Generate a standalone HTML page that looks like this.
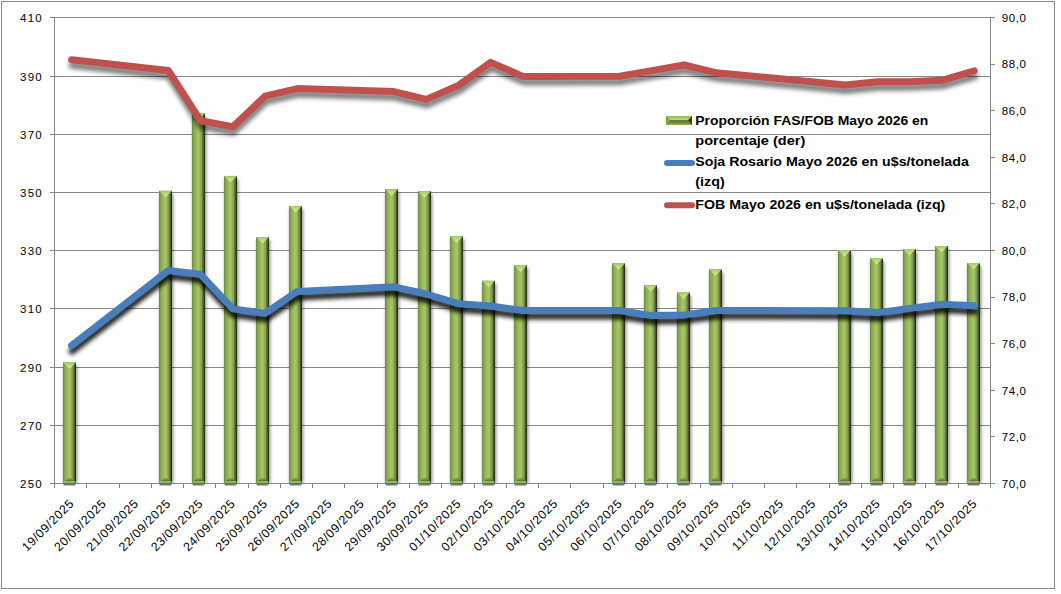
<!DOCTYPE html>
<html><head><meta charset="utf-8"><style>
html,body{margin:0;padding:0;background:#fff;width:1061px;height:594px;overflow:hidden;}
svg{display:block;}
</style></head><body>
<svg width="1061" height="594" viewBox="0 0 1061 594">
<defs>
<linearGradient id="gb" x1="0" x2="1" y1="0" y2="0">
 <stop offset="0" stop-color="#66843a"/>
 <stop offset="0.10" stop-color="#84a24c"/>
 <stop offset="0.30" stop-color="#98b858"/>
 <stop offset="0.48" stop-color="#a8c866"/>
 <stop offset="0.62" stop-color="#9ab65c"/>
 <stop offset="0.77" stop-color="#78924a"/>
 <stop offset="0.87" stop-color="#4e6230"/>
 <stop offset="0.94" stop-color="#2e3c1a"/>
 <stop offset="1" stop-color="#1c280e"/>
</linearGradient>
<linearGradient id="gtri" x1="0" x2="0" y1="0" y2="1">
 <stop offset="0" stop-color="#a6c666"/>
 <stop offset="1" stop-color="#d2f898"/>
</linearGradient>
<linearGradient id="gtop" x1="0" x2="1" y1="0" y2="0">
 <stop offset="0" stop-color="#8eac52"/>
 <stop offset="0.5" stop-color="#8eac52"/>
 <stop offset="0.5" stop-color="#6a843a"/>
 <stop offset="1" stop-color="#2a3814"/>
</linearGradient>
<filter id="shR" x="-5%" y="-20%" width="110%" height="160%">
 <feGaussianBlur stdDeviation="2.0"/>
</filter>
<filter id="shBar" x="-100%" y="-5%" width="300%" height="110%">
 <feGaussianBlur stdDeviation="1.6"/>
</filter>
<filter id="shBot" x="-20%" y="-100%" width="140%" height="300%">
 <feGaussianBlur stdDeviation="0.45"/>
</filter>
<linearGradient id="gbot" x1="0" x2="0" y1="0" y2="1">
 <stop offset="0" stop-color="#7e9a48" stop-opacity="0"/>
 <stop offset="0.55" stop-color="#5e7434" stop-opacity="0.85"/>
 <stop offset="0.7" stop-color="#5a7032" stop-opacity="0.9"/>
 <stop offset="0.72" stop-color="#9cc05e"/>
 <stop offset="1" stop-color="#a0c462"/>
</linearGradient>
<linearGradient id="lgTop" x1="0" x2="0" y1="0" y2="1">
 <stop offset="0" stop-color="#94b456"/>
 <stop offset="1" stop-color="#c2e480"/>
</linearGradient>
<linearGradient id="lgBot" x1="0" x2="0" y1="1" y2="0">
 <stop offset="0" stop-color="#96b858"/>
 <stop offset="0.5" stop-color="#6e8a3e"/>
 <stop offset="1" stop-color="#566c2e"/>
</linearGradient>
</defs>
<rect x="0" y="0" width="1061" height="594" fill="#fff"/>
<rect x="1.5" y="1.5" width="1053" height="587" fill="#fff" stroke="#868686" stroke-width="1"/>
<line x1="50" y1="17.5" x2="990" y2="17.5" stroke="#868686" stroke-width="1"/>
<line x1="50" y1="76.5" x2="990" y2="76.5" stroke="#868686" stroke-width="1"/>
<line x1="50" y1="134.5" x2="990" y2="134.5" stroke="#868686" stroke-width="1"/>
<line x1="50" y1="192.5" x2="990" y2="192.5" stroke="#868686" stroke-width="1"/>
<line x1="50" y1="250.5" x2="990" y2="250.5" stroke="#868686" stroke-width="1"/>
<line x1="50" y1="308.5" x2="990" y2="308.5" stroke="#868686" stroke-width="1"/>
<line x1="50" y1="367.5" x2="990" y2="367.5" stroke="#868686" stroke-width="1"/>
<line x1="50" y1="425.5" x2="990" y2="425.5" stroke="#868686" stroke-width="1"/>
<line x1="50" y1="483.5" x2="990" y2="483.5" stroke="#868686" stroke-width="1"/>
<line x1="54.5" y1="17" x2="54.5" y2="488" stroke="#868686" stroke-width="1"/>
<line x1="990.5" y1="17" x2="990.5" y2="488" stroke="#868686" stroke-width="1"/>
<line x1="990" y1="17.5" x2="995" y2="17.5" stroke="#868686" stroke-width="1"/>
<line x1="990" y1="64.5" x2="995" y2="64.5" stroke="#868686" stroke-width="1"/>
<line x1="990" y1="110.5" x2="995" y2="110.5" stroke="#868686" stroke-width="1"/>
<line x1="990" y1="157.5" x2="995" y2="157.5" stroke="#868686" stroke-width="1"/>
<line x1="990" y1="203.5" x2="995" y2="203.5" stroke="#868686" stroke-width="1"/>
<line x1="990" y1="250.5" x2="995" y2="250.5" stroke="#868686" stroke-width="1"/>
<line x1="990" y1="297.5" x2="995" y2="297.5" stroke="#868686" stroke-width="1"/>
<line x1="990" y1="343.5" x2="995" y2="343.5" stroke="#868686" stroke-width="1"/>
<line x1="990" y1="390.5" x2="995" y2="390.5" stroke="#868686" stroke-width="1"/>
<line x1="990" y1="436.5" x2="995" y2="436.5" stroke="#868686" stroke-width="1"/>
<line x1="990" y1="483.5" x2="995" y2="483.5" stroke="#868686" stroke-width="1"/>
<line x1="54.5" y1="483" x2="54.5" y2="488" stroke="#868686" stroke-width="1"/>
<line x1="86.5" y1="483" x2="86.5" y2="488" stroke="#868686" stroke-width="1"/>
<line x1="119.5" y1="483" x2="119.5" y2="488" stroke="#868686" stroke-width="1"/>
<line x1="151.5" y1="483" x2="151.5" y2="488" stroke="#868686" stroke-width="1"/>
<line x1="183.5" y1="483" x2="183.5" y2="488" stroke="#868686" stroke-width="1"/>
<line x1="215.5" y1="483" x2="215.5" y2="488" stroke="#868686" stroke-width="1"/>
<line x1="248.5" y1="483" x2="248.5" y2="488" stroke="#868686" stroke-width="1"/>
<line x1="280.5" y1="483" x2="280.5" y2="488" stroke="#868686" stroke-width="1"/>
<line x1="312.5" y1="483" x2="312.5" y2="488" stroke="#868686" stroke-width="1"/>
<line x1="344.5" y1="483" x2="344.5" y2="488" stroke="#868686" stroke-width="1"/>
<line x1="377.5" y1="483" x2="377.5" y2="488" stroke="#868686" stroke-width="1"/>
<line x1="409.5" y1="483" x2="409.5" y2="488" stroke="#868686" stroke-width="1"/>
<line x1="441.5" y1="483" x2="441.5" y2="488" stroke="#868686" stroke-width="1"/>
<line x1="474.5" y1="483" x2="474.5" y2="488" stroke="#868686" stroke-width="1"/>
<line x1="506.5" y1="483" x2="506.5" y2="488" stroke="#868686" stroke-width="1"/>
<line x1="538.5" y1="483" x2="538.5" y2="488" stroke="#868686" stroke-width="1"/>
<line x1="570.5" y1="483" x2="570.5" y2="488" stroke="#868686" stroke-width="1"/>
<line x1="603.5" y1="483" x2="603.5" y2="488" stroke="#868686" stroke-width="1"/>
<line x1="635.5" y1="483" x2="635.5" y2="488" stroke="#868686" stroke-width="1"/>
<line x1="667.5" y1="483" x2="667.5" y2="488" stroke="#868686" stroke-width="1"/>
<line x1="700.5" y1="483" x2="700.5" y2="488" stroke="#868686" stroke-width="1"/>
<line x1="732.5" y1="483" x2="732.5" y2="488" stroke="#868686" stroke-width="1"/>
<line x1="764.5" y1="483" x2="764.5" y2="488" stroke="#868686" stroke-width="1"/>
<line x1="796.5" y1="483" x2="796.5" y2="488" stroke="#868686" stroke-width="1"/>
<line x1="829.5" y1="483" x2="829.5" y2="488" stroke="#868686" stroke-width="1"/>
<line x1="861.5" y1="483" x2="861.5" y2="488" stroke="#868686" stroke-width="1"/>
<line x1="893.5" y1="483" x2="893.5" y2="488" stroke="#868686" stroke-width="1"/>
<line x1="925.5" y1="483" x2="925.5" y2="488" stroke="#868686" stroke-width="1"/>
<line x1="958.5" y1="483" x2="958.5" y2="488" stroke="#868686" stroke-width="1"/>
<line x1="990.5" y1="483" x2="990.5" y2="488" stroke="#868686" stroke-width="1"/>
<rect x="63.5" y="365.4" width="14" height="117.6" fill="#000" opacity="0.4" filter="url(#shBar)"/>
<rect x="63.5" y="483.8" width="12" height="1.8" rx="0.9" fill="#404055" opacity="0.7" filter="url(#shBot)"/>
<rect x="159.5" y="193.8" width="14" height="289.2" fill="#000" opacity="0.4" filter="url(#shBar)"/>
<rect x="159.5" y="483.8" width="12" height="1.8" rx="0.9" fill="#404055" opacity="0.7" filter="url(#shBot)"/>
<rect x="192.5" y="116.3" width="14" height="366.7" fill="#000" opacity="0.4" filter="url(#shBar)"/>
<rect x="192.5" y="483.8" width="12" height="1.8" rx="0.9" fill="#404055" opacity="0.7" filter="url(#shBot)"/>
<rect x="224.5" y="178.9" width="14" height="304.1" fill="#000" opacity="0.4" filter="url(#shBar)"/>
<rect x="224.5" y="483.8" width="12" height="1.8" rx="0.9" fill="#404055" opacity="0.7" filter="url(#shBot)"/>
<rect x="256.5" y="240.1" width="14" height="242.9" fill="#000" opacity="0.4" filter="url(#shBar)"/>
<rect x="256.5" y="483.8" width="12" height="1.8" rx="0.9" fill="#404055" opacity="0.7" filter="url(#shBot)"/>
<rect x="289.5" y="208.9" width="14" height="274.1" fill="#000" opacity="0.4" filter="url(#shBar)"/>
<rect x="289.5" y="483.8" width="12" height="1.8" rx="0.9" fill="#404055" opacity="0.7" filter="url(#shBot)"/>
<rect x="385.5" y="192.2" width="14" height="290.8" fill="#000" opacity="0.4" filter="url(#shBar)"/>
<rect x="385.5" y="483.8" width="12" height="1.8" rx="0.9" fill="#404055" opacity="0.7" filter="url(#shBot)"/>
<rect x="418.5" y="194.2" width="14" height="288.8" fill="#000" opacity="0.4" filter="url(#shBar)"/>
<rect x="418.5" y="483.8" width="12" height="1.8" rx="0.9" fill="#404055" opacity="0.7" filter="url(#shBot)"/>
<rect x="450.5" y="239.4" width="14" height="243.6" fill="#000" opacity="0.4" filter="url(#shBar)"/>
<rect x="450.5" y="483.8" width="12" height="1.8" rx="0.9" fill="#404055" opacity="0.7" filter="url(#shBot)"/>
<rect x="482.5" y="283.8" width="14" height="199.2" fill="#000" opacity="0.4" filter="url(#shBar)"/>
<rect x="482.5" y="483.8" width="12" height="1.8" rx="0.9" fill="#404055" opacity="0.7" filter="url(#shBot)"/>
<rect x="514.5" y="268.4" width="14" height="214.6" fill="#000" opacity="0.4" filter="url(#shBar)"/>
<rect x="514.5" y="483.8" width="12" height="1.8" rx="0.9" fill="#404055" opacity="0.7" filter="url(#shBot)"/>
<rect x="612.5" y="266.2" width="14" height="216.8" fill="#000" opacity="0.4" filter="url(#shBar)"/>
<rect x="612.5" y="483.8" width="12" height="1.8" rx="0.9" fill="#404055" opacity="0.7" filter="url(#shBot)"/>
<rect x="644.5" y="288.2" width="14" height="194.8" fill="#000" opacity="0.4" filter="url(#shBar)"/>
<rect x="644.5" y="483.8" width="12" height="1.8" rx="0.9" fill="#404055" opacity="0.7" filter="url(#shBot)"/>
<rect x="677.5" y="295.5" width="14" height="187.5" fill="#000" opacity="0.4" filter="url(#shBar)"/>
<rect x="677.5" y="483.8" width="12" height="1.8" rx="0.9" fill="#404055" opacity="0.7" filter="url(#shBot)"/>
<rect x="709.5" y="272.3" width="14" height="210.7" fill="#000" opacity="0.4" filter="url(#shBar)"/>
<rect x="709.5" y="483.8" width="12" height="1.8" rx="0.9" fill="#404055" opacity="0.7" filter="url(#shBot)"/>
<rect x="838.5" y="253.1" width="14" height="229.9" fill="#000" opacity="0.4" filter="url(#shBar)"/>
<rect x="838.5" y="483.8" width="12" height="1.8" rx="0.9" fill="#404055" opacity="0.7" filter="url(#shBot)"/>
<rect x="870.5" y="261.1" width="14" height="221.9" fill="#000" opacity="0.4" filter="url(#shBar)"/>
<rect x="870.5" y="483.8" width="12" height="1.8" rx="0.9" fill="#404055" opacity="0.7" filter="url(#shBot)"/>
<rect x="903.5" y="252.0" width="14" height="231.0" fill="#000" opacity="0.4" filter="url(#shBar)"/>
<rect x="903.5" y="483.8" width="12" height="1.8" rx="0.9" fill="#404055" opacity="0.7" filter="url(#shBot)"/>
<rect x="935.5" y="249.0" width="14" height="234.0" fill="#000" opacity="0.4" filter="url(#shBar)"/>
<rect x="935.5" y="483.8" width="12" height="1.8" rx="0.9" fill="#404055" opacity="0.7" filter="url(#shBot)"/>
<rect x="967.5" y="265.9" width="14" height="217.1" fill="#000" opacity="0.4" filter="url(#shBar)"/>
<rect x="967.5" y="483.8" width="12" height="1.8" rx="0.9" fill="#404055" opacity="0.7" filter="url(#shBot)"/>
<rect x="63" y="362.4" width="13" height="120.6" fill="url(#gb)"/>
<path d="M63 362.4 h6.5 v6.3 z" fill="#84a24a" opacity="0.7"/>
<path d="M63 362.4 h13 l-6.5 6.3 z" fill="url(#gtri)"/>
<path d="M63 483 L69.5 476.5 L76 483 z" fill="url(#gbot)"/>
<rect x="63" y="481" width="13" height="2" fill="#93b658"/>
<rect x="63" y="481" width="1" height="2" fill="#7a9a44"/><rect x="75" y="477" width="1" height="6" fill="#1e2a0e" opacity="0.6"/>
<rect x="159" y="190.8" width="13" height="292.2" fill="url(#gb)"/>
<path d="M159 190.8 h6.5 v6.3 z" fill="#84a24a" opacity="0.7"/>
<path d="M159 190.8 h13 l-6.5 6.3 z" fill="url(#gtri)"/>
<path d="M159 483 L165.5 476.5 L172 483 z" fill="url(#gbot)"/>
<rect x="159" y="481" width="13" height="2" fill="#93b658"/>
<rect x="159" y="481" width="1" height="2" fill="#7a9a44"/><rect x="171" y="477" width="1" height="6" fill="#1e2a0e" opacity="0.6"/>
<rect x="192" y="113.3" width="13" height="369.7" fill="url(#gb)"/>
<path d="M192 113.3 h6.5 v6.3 z" fill="#84a24a" opacity="0.7"/>
<path d="M192 113.3 h13 l-6.5 6.3 z" fill="url(#gtri)"/>
<path d="M192 483 L198.5 476.5 L205 483 z" fill="url(#gbot)"/>
<rect x="192" y="481" width="13" height="2" fill="#93b658"/>
<rect x="192" y="481" width="1" height="2" fill="#7a9a44"/><rect x="204" y="477" width="1" height="6" fill="#1e2a0e" opacity="0.6"/>
<rect x="224" y="175.9" width="13" height="307.1" fill="url(#gb)"/>
<path d="M224 175.9 h6.5 v6.3 z" fill="#84a24a" opacity="0.7"/>
<path d="M224 175.9 h13 l-6.5 6.3 z" fill="url(#gtri)"/>
<path d="M224 483 L230.5 476.5 L237 483 z" fill="url(#gbot)"/>
<rect x="224" y="481" width="13" height="2" fill="#93b658"/>
<rect x="224" y="481" width="1" height="2" fill="#7a9a44"/><rect x="236" y="477" width="1" height="6" fill="#1e2a0e" opacity="0.6"/>
<rect x="256" y="237.1" width="13" height="245.9" fill="url(#gb)"/>
<path d="M256 237.1 h6.5 v6.3 z" fill="#84a24a" opacity="0.7"/>
<path d="M256 237.1 h13 l-6.5 6.3 z" fill="url(#gtri)"/>
<path d="M256 483 L262.5 476.5 L269 483 z" fill="url(#gbot)"/>
<rect x="256" y="481" width="13" height="2" fill="#93b658"/>
<rect x="256" y="481" width="1" height="2" fill="#7a9a44"/><rect x="268" y="477" width="1" height="6" fill="#1e2a0e" opacity="0.6"/>
<rect x="289" y="205.9" width="13" height="277.1" fill="url(#gb)"/>
<path d="M289 205.9 h6.5 v6.3 z" fill="#84a24a" opacity="0.7"/>
<path d="M289 205.9 h13 l-6.5 6.3 z" fill="url(#gtri)"/>
<path d="M289 483 L295.5 476.5 L302 483 z" fill="url(#gbot)"/>
<rect x="289" y="481" width="13" height="2" fill="#93b658"/>
<rect x="289" y="481" width="1" height="2" fill="#7a9a44"/><rect x="301" y="477" width="1" height="6" fill="#1e2a0e" opacity="0.6"/>
<rect x="385" y="189.2" width="13" height="293.8" fill="url(#gb)"/>
<path d="M385 189.2 h6.5 v6.3 z" fill="#84a24a" opacity="0.7"/>
<path d="M385 189.2 h13 l-6.5 6.3 z" fill="url(#gtri)"/>
<path d="M385 483 L391.5 476.5 L398 483 z" fill="url(#gbot)"/>
<rect x="385" y="481" width="13" height="2" fill="#93b658"/>
<rect x="385" y="481" width="1" height="2" fill="#7a9a44"/><rect x="397" y="477" width="1" height="6" fill="#1e2a0e" opacity="0.6"/>
<rect x="418" y="191.2" width="13" height="291.8" fill="url(#gb)"/>
<path d="M418 191.2 h6.5 v6.3 z" fill="#84a24a" opacity="0.7"/>
<path d="M418 191.2 h13 l-6.5 6.3 z" fill="url(#gtri)"/>
<path d="M418 483 L424.5 476.5 L431 483 z" fill="url(#gbot)"/>
<rect x="418" y="481" width="13" height="2" fill="#93b658"/>
<rect x="418" y="481" width="1" height="2" fill="#7a9a44"/><rect x="430" y="477" width="1" height="6" fill="#1e2a0e" opacity="0.6"/>
<rect x="450" y="236.4" width="13" height="246.6" fill="url(#gb)"/>
<path d="M450 236.4 h6.5 v6.3 z" fill="#84a24a" opacity="0.7"/>
<path d="M450 236.4 h13 l-6.5 6.3 z" fill="url(#gtri)"/>
<path d="M450 483 L456.5 476.5 L463 483 z" fill="url(#gbot)"/>
<rect x="450" y="481" width="13" height="2" fill="#93b658"/>
<rect x="450" y="481" width="1" height="2" fill="#7a9a44"/><rect x="462" y="477" width="1" height="6" fill="#1e2a0e" opacity="0.6"/>
<rect x="482" y="280.8" width="13" height="202.2" fill="url(#gb)"/>
<path d="M482 280.8 h6.5 v6.3 z" fill="#84a24a" opacity="0.7"/>
<path d="M482 280.8 h13 l-6.5 6.3 z" fill="url(#gtri)"/>
<path d="M482 483 L488.5 476.5 L495 483 z" fill="url(#gbot)"/>
<rect x="482" y="481" width="13" height="2" fill="#93b658"/>
<rect x="482" y="481" width="1" height="2" fill="#7a9a44"/><rect x="494" y="477" width="1" height="6" fill="#1e2a0e" opacity="0.6"/>
<rect x="514" y="265.4" width="13" height="217.6" fill="url(#gb)"/>
<path d="M514 265.4 h6.5 v6.3 z" fill="#84a24a" opacity="0.7"/>
<path d="M514 265.4 h13 l-6.5 6.3 z" fill="url(#gtri)"/>
<path d="M514 483 L520.5 476.5 L527 483 z" fill="url(#gbot)"/>
<rect x="514" y="481" width="13" height="2" fill="#93b658"/>
<rect x="514" y="481" width="1" height="2" fill="#7a9a44"/><rect x="526" y="477" width="1" height="6" fill="#1e2a0e" opacity="0.6"/>
<rect x="612" y="263.2" width="13" height="219.8" fill="url(#gb)"/>
<path d="M612 263.2 h6.5 v6.3 z" fill="#84a24a" opacity="0.7"/>
<path d="M612 263.2 h13 l-6.5 6.3 z" fill="url(#gtri)"/>
<path d="M612 483 L618.5 476.5 L625 483 z" fill="url(#gbot)"/>
<rect x="612" y="481" width="13" height="2" fill="#93b658"/>
<rect x="612" y="481" width="1" height="2" fill="#7a9a44"/><rect x="624" y="477" width="1" height="6" fill="#1e2a0e" opacity="0.6"/>
<rect x="644" y="285.2" width="13" height="197.8" fill="url(#gb)"/>
<path d="M644 285.2 h6.5 v6.3 z" fill="#84a24a" opacity="0.7"/>
<path d="M644 285.2 h13 l-6.5 6.3 z" fill="url(#gtri)"/>
<path d="M644 483 L650.5 476.5 L657 483 z" fill="url(#gbot)"/>
<rect x="644" y="481" width="13" height="2" fill="#93b658"/>
<rect x="644" y="481" width="1" height="2" fill="#7a9a44"/><rect x="656" y="477" width="1" height="6" fill="#1e2a0e" opacity="0.6"/>
<rect x="677" y="292.5" width="13" height="190.5" fill="url(#gb)"/>
<path d="M677 292.5 h6.5 v6.3 z" fill="#84a24a" opacity="0.7"/>
<path d="M677 292.5 h13 l-6.5 6.3 z" fill="url(#gtri)"/>
<path d="M677 483 L683.5 476.5 L690 483 z" fill="url(#gbot)"/>
<rect x="677" y="481" width="13" height="2" fill="#93b658"/>
<rect x="677" y="481" width="1" height="2" fill="#7a9a44"/><rect x="689" y="477" width="1" height="6" fill="#1e2a0e" opacity="0.6"/>
<rect x="709" y="269.3" width="13" height="213.7" fill="url(#gb)"/>
<path d="M709 269.3 h6.5 v6.3 z" fill="#84a24a" opacity="0.7"/>
<path d="M709 269.3 h13 l-6.5 6.3 z" fill="url(#gtri)"/>
<path d="M709 483 L715.5 476.5 L722 483 z" fill="url(#gbot)"/>
<rect x="709" y="481" width="13" height="2" fill="#93b658"/>
<rect x="709" y="481" width="1" height="2" fill="#7a9a44"/><rect x="721" y="477" width="1" height="6" fill="#1e2a0e" opacity="0.6"/>
<rect x="838" y="250.1" width="13" height="232.9" fill="url(#gb)"/>
<path d="M838 250.1 h6.5 v6.3 z" fill="#84a24a" opacity="0.7"/>
<path d="M838 250.1 h13 l-6.5 6.3 z" fill="url(#gtri)"/>
<path d="M838 483 L844.5 476.5 L851 483 z" fill="url(#gbot)"/>
<rect x="838" y="481" width="13" height="2" fill="#93b658"/>
<rect x="838" y="481" width="1" height="2" fill="#7a9a44"/><rect x="850" y="477" width="1" height="6" fill="#1e2a0e" opacity="0.6"/>
<rect x="870" y="258.1" width="13" height="224.9" fill="url(#gb)"/>
<path d="M870 258.1 h6.5 v6.3 z" fill="#84a24a" opacity="0.7"/>
<path d="M870 258.1 h13 l-6.5 6.3 z" fill="url(#gtri)"/>
<path d="M870 483 L876.5 476.5 L883 483 z" fill="url(#gbot)"/>
<rect x="870" y="481" width="13" height="2" fill="#93b658"/>
<rect x="870" y="481" width="1" height="2" fill="#7a9a44"/><rect x="882" y="477" width="1" height="6" fill="#1e2a0e" opacity="0.6"/>
<rect x="903" y="249.0" width="13" height="234.0" fill="url(#gb)"/>
<path d="M903 249.0 h6.5 v6.3 z" fill="#84a24a" opacity="0.7"/>
<path d="M903 249.0 h13 l-6.5 6.3 z" fill="url(#gtri)"/>
<path d="M903 483 L909.5 476.5 L916 483 z" fill="url(#gbot)"/>
<rect x="903" y="481" width="13" height="2" fill="#93b658"/>
<rect x="903" y="481" width="1" height="2" fill="#7a9a44"/><rect x="915" y="477" width="1" height="6" fill="#1e2a0e" opacity="0.6"/>
<rect x="935" y="246.0" width="13" height="237.0" fill="url(#gb)"/>
<path d="M935 246.0 h6.5 v6.3 z" fill="#84a24a" opacity="0.7"/>
<path d="M935 246.0 h13 l-6.5 6.3 z" fill="url(#gtri)"/>
<path d="M935 483 L941.5 476.5 L948 483 z" fill="url(#gbot)"/>
<rect x="935" y="481" width="13" height="2" fill="#93b658"/>
<rect x="935" y="481" width="1" height="2" fill="#7a9a44"/><rect x="947" y="477" width="1" height="6" fill="#1e2a0e" opacity="0.6"/>
<rect x="967" y="262.9" width="13" height="220.1" fill="url(#gb)"/>
<path d="M967 262.9 h6.5 v6.3 z" fill="#84a24a" opacity="0.7"/>
<path d="M967 262.9 h13 l-6.5 6.3 z" fill="url(#gtri)"/>
<path d="M967 483 L973.5 476.5 L980 483 z" fill="url(#gbot)"/>
<rect x="967" y="481" width="13" height="2" fill="#93b658"/>
<rect x="967" y="481" width="1" height="2" fill="#7a9a44"/><rect x="979" y="477" width="1" height="6" fill="#1e2a0e" opacity="0.6"/>
<polyline points="71.60,59.80 168.32,70.50 200.56,120.80 232.79,126.80 265.03,96.20 297.27,88.60 393.99,91.60 426.23,99.40 458.47,85.40 490.71,62.40 522.95,76.40 619.66,76.20 651.90,70.60 684.14,65.00 716.38,72.80 845.34,84.90 877.57,81.80 909.81,81.80 942.05,80.30 974.29,70.80" fill="none" stroke="#000" stroke-opacity="0.5" stroke-width="7" stroke-linejoin="round" stroke-linecap="round" transform="translate(0.5,5.5)" filter="url(#shR)"/>
<polyline points="71.60,59.80 168.32,70.50 200.56,120.80 232.79,126.80 265.03,96.20 297.27,88.60 393.99,91.60 426.23,99.40 458.47,85.40 490.71,62.40 522.95,76.40 619.66,76.20 651.90,70.60 684.14,65.00 716.38,72.80 845.34,84.90 877.57,81.80 909.81,81.80 942.05,80.30 974.29,70.80" fill="none" stroke="#c0504d" stroke-width="7" stroke-linejoin="round" stroke-linecap="round"/>
<polyline points="71.60,345.60 168.32,270.50 200.56,274.30 232.79,308.90 265.03,313.40 297.27,291.40 393.99,286.80 426.23,294.00 458.47,303.70 490.71,306.00 522.95,310.50 619.66,310.50 651.90,315.60 684.14,314.90 716.38,310.50 845.34,310.80 877.57,312.60 909.81,308.40 942.05,304.30 974.29,305.80" fill="none" stroke="#000" stroke-opacity="0.86" stroke-width="7" stroke-linejoin="round" stroke-linecap="round" transform="translate(0.5,5.5)" filter="url(#shR)"/>
<polyline points="71.60,345.60 168.32,270.50 200.56,274.30 232.79,308.90 265.03,313.40 297.27,291.40 393.99,286.80 426.23,294.00 458.47,303.70 490.71,306.00 522.95,310.50 619.66,310.50 651.90,315.60 684.14,314.90 716.38,310.50 845.34,310.80 877.57,312.60 909.81,308.40 942.05,304.30 974.29,305.80" fill="none" stroke="#4a7ebb" stroke-width="7" stroke-linejoin="round" stroke-linecap="round"/>
<text x="42.9" y="21.8" font-family="Liberation Sans, sans-serif" font-size="11.5" letter-spacing="1.2" text-anchor="end" fill="#000">410</text>
<text x="42.9" y="80.8" font-family="Liberation Sans, sans-serif" font-size="11.5" letter-spacing="1.2" text-anchor="end" fill="#000">390</text>
<text x="42.9" y="138.8" font-family="Liberation Sans, sans-serif" font-size="11.5" letter-spacing="1.2" text-anchor="end" fill="#000">370</text>
<text x="42.9" y="196.8" font-family="Liberation Sans, sans-serif" font-size="11.5" letter-spacing="1.2" text-anchor="end" fill="#000">350</text>
<text x="42.9" y="254.8" font-family="Liberation Sans, sans-serif" font-size="11.5" letter-spacing="1.2" text-anchor="end" fill="#000">330</text>
<text x="42.9" y="312.8" font-family="Liberation Sans, sans-serif" font-size="11.5" letter-spacing="1.2" text-anchor="end" fill="#000">310</text>
<text x="42.9" y="371.8" font-family="Liberation Sans, sans-serif" font-size="11.5" letter-spacing="1.2" text-anchor="end" fill="#000">290</text>
<text x="42.9" y="429.8" font-family="Liberation Sans, sans-serif" font-size="11.5" letter-spacing="1.2" text-anchor="end" fill="#000">270</text>
<text x="42.9" y="487.8" font-family="Liberation Sans, sans-serif" font-size="11.5" letter-spacing="1.2" text-anchor="end" fill="#000">250</text>
<text x="1001.8" y="21.8" font-family="Liberation Sans, sans-serif" font-size="11.5" letter-spacing="0.6" fill="#000">90,0</text>
<text x="1001.8" y="68.4" font-family="Liberation Sans, sans-serif" font-size="11.5" letter-spacing="0.6" fill="#000">88,0</text>
<text x="1001.8" y="115.0" font-family="Liberation Sans, sans-serif" font-size="11.5" letter-spacing="0.6" fill="#000">86,0</text>
<text x="1001.8" y="161.6" font-family="Liberation Sans, sans-serif" font-size="11.5" letter-spacing="0.6" fill="#000">84,0</text>
<text x="1001.8" y="208.2" font-family="Liberation Sans, sans-serif" font-size="11.5" letter-spacing="0.6" fill="#000">82,0</text>
<text x="1001.8" y="254.8" font-family="Liberation Sans, sans-serif" font-size="11.5" letter-spacing="0.6" fill="#000">80,0</text>
<text x="1001.8" y="301.4" font-family="Liberation Sans, sans-serif" font-size="11.5" letter-spacing="0.6" fill="#000">78,0</text>
<text x="1001.8" y="348.0" font-family="Liberation Sans, sans-serif" font-size="11.5" letter-spacing="0.6" fill="#000">76,0</text>
<text x="1001.8" y="394.6" font-family="Liberation Sans, sans-serif" font-size="11.5" letter-spacing="0.6" fill="#000">74,0</text>
<text x="1001.8" y="441.2" font-family="Liberation Sans, sans-serif" font-size="11.5" letter-spacing="0.6" fill="#000">72,0</text>
<text x="1001.8" y="487.8" font-family="Liberation Sans, sans-serif" font-size="11.5" letter-spacing="0.6" fill="#000">70,0</text>
<text x="0" y="0" font-family="Liberation Sans, sans-serif" font-size="12.3" letter-spacing="0.6" text-anchor="end" fill="#000" transform="translate(74.7,504.3) rotate(-45)">19/09/2025</text>
<text x="0" y="0" font-family="Liberation Sans, sans-serif" font-size="12.3" letter-spacing="0.6" text-anchor="end" fill="#000" transform="translate(107.0,504.3) rotate(-45)">20/09/2025</text>
<text x="0" y="0" font-family="Liberation Sans, sans-serif" font-size="12.3" letter-spacing="0.6" text-anchor="end" fill="#000" transform="translate(139.2,504.3) rotate(-45)">21/09/2025</text>
<text x="0" y="0" font-family="Liberation Sans, sans-serif" font-size="12.3" letter-spacing="0.6" text-anchor="end" fill="#000" transform="translate(171.4,504.3) rotate(-45)">22/09/2025</text>
<text x="0" y="0" font-family="Liberation Sans, sans-serif" font-size="12.3" letter-spacing="0.6" text-anchor="end" fill="#000" transform="translate(203.7,504.3) rotate(-45)">23/09/2025</text>
<text x="0" y="0" font-family="Liberation Sans, sans-serif" font-size="12.3" letter-spacing="0.6" text-anchor="end" fill="#000" transform="translate(235.9,504.3) rotate(-45)">24/09/2025</text>
<text x="0" y="0" font-family="Liberation Sans, sans-serif" font-size="12.3" letter-spacing="0.6" text-anchor="end" fill="#000" transform="translate(268.2,504.3) rotate(-45)">25/09/2025</text>
<text x="0" y="0" font-family="Liberation Sans, sans-serif" font-size="12.3" letter-spacing="0.6" text-anchor="end" fill="#000" transform="translate(300.4,504.3) rotate(-45)">26/09/2025</text>
<text x="0" y="0" font-family="Liberation Sans, sans-serif" font-size="12.3" letter-spacing="0.6" text-anchor="end" fill="#000" transform="translate(332.7,504.3) rotate(-45)">27/09/2025</text>
<text x="0" y="0" font-family="Liberation Sans, sans-serif" font-size="12.3" letter-spacing="0.6" text-anchor="end" fill="#000" transform="translate(364.9,504.3) rotate(-45)">28/09/2025</text>
<text x="0" y="0" font-family="Liberation Sans, sans-serif" font-size="12.3" letter-spacing="0.6" text-anchor="end" fill="#000" transform="translate(397.2,504.3) rotate(-45)">29/09/2025</text>
<text x="0" y="0" font-family="Liberation Sans, sans-serif" font-size="12.3" letter-spacing="0.6" text-anchor="end" fill="#000" transform="translate(429.4,504.3) rotate(-45)">30/09/2025</text>
<text x="0" y="0" font-family="Liberation Sans, sans-serif" font-size="12.3" letter-spacing="0.6" text-anchor="end" fill="#000" transform="translate(461.7,504.3) rotate(-45)">01/10/2025</text>
<text x="0" y="0" font-family="Liberation Sans, sans-serif" font-size="12.3" letter-spacing="0.6" text-anchor="end" fill="#000" transform="translate(493.9,504.3) rotate(-45)">02/10/2025</text>
<text x="0" y="0" font-family="Liberation Sans, sans-serif" font-size="12.3" letter-spacing="0.6" text-anchor="end" fill="#000" transform="translate(526.2,504.3) rotate(-45)">03/10/2025</text>
<text x="0" y="0" font-family="Liberation Sans, sans-serif" font-size="12.3" letter-spacing="0.6" text-anchor="end" fill="#000" transform="translate(558.5,504.3) rotate(-45)">04/10/2025</text>
<text x="0" y="0" font-family="Liberation Sans, sans-serif" font-size="12.3" letter-spacing="0.6" text-anchor="end" fill="#000" transform="translate(590.7,504.3) rotate(-45)">05/10/2025</text>
<text x="0" y="0" font-family="Liberation Sans, sans-serif" font-size="12.3" letter-spacing="0.6" text-anchor="end" fill="#000" transform="translate(623.0,504.3) rotate(-45)">06/10/2025</text>
<text x="0" y="0" font-family="Liberation Sans, sans-serif" font-size="12.3" letter-spacing="0.6" text-anchor="end" fill="#000" transform="translate(655.2,504.3) rotate(-45)">07/10/2025</text>
<text x="0" y="0" font-family="Liberation Sans, sans-serif" font-size="12.3" letter-spacing="0.6" text-anchor="end" fill="#000" transform="translate(687.5,504.3) rotate(-45)">08/10/2025</text>
<text x="0" y="0" font-family="Liberation Sans, sans-serif" font-size="12.3" letter-spacing="0.6" text-anchor="end" fill="#000" transform="translate(719.7,504.3) rotate(-45)">09/10/2025</text>
<text x="0" y="0" font-family="Liberation Sans, sans-serif" font-size="12.3" letter-spacing="0.6" text-anchor="end" fill="#000" transform="translate(752.0,504.3) rotate(-45)">10/10/2025</text>
<text x="0" y="0" font-family="Liberation Sans, sans-serif" font-size="12.3" letter-spacing="0.6" text-anchor="end" fill="#000" transform="translate(784.2,504.3) rotate(-45)">11/10/2025</text>
<text x="0" y="0" font-family="Liberation Sans, sans-serif" font-size="12.3" letter-spacing="0.6" text-anchor="end" fill="#000" transform="translate(816.5,504.3) rotate(-45)">12/10/2025</text>
<text x="0" y="0" font-family="Liberation Sans, sans-serif" font-size="12.3" letter-spacing="0.6" text-anchor="end" fill="#000" transform="translate(848.7,504.3) rotate(-45)">13/10/2025</text>
<text x="0" y="0" font-family="Liberation Sans, sans-serif" font-size="12.3" letter-spacing="0.6" text-anchor="end" fill="#000" transform="translate(881.0,504.3) rotate(-45)">14/10/2025</text>
<text x="0" y="0" font-family="Liberation Sans, sans-serif" font-size="12.3" letter-spacing="0.6" text-anchor="end" fill="#000" transform="translate(913.2,504.3) rotate(-45)">15/10/2025</text>
<text x="0" y="0" font-family="Liberation Sans, sans-serif" font-size="12.3" letter-spacing="0.6" text-anchor="end" fill="#000" transform="translate(945.5,504.3) rotate(-45)">16/10/2025</text>
<text x="0" y="0" font-family="Liberation Sans, sans-serif" font-size="12.3" letter-spacing="0.6" text-anchor="end" fill="#000" transform="translate(977.7,504.3) rotate(-45)">17/10/2025</text>
<rect x="666" y="116" width="26" height="9" fill="#8aa850"/>
<path d="M666 116 H692 L688 120.3 H670 Z" fill="url(#lgTop)"/>
<path d="M666 125 H692 L688 120.3 H670 Z" fill="url(#lgBot)"/>
<path d="M692 116 V125 L688 120.3 Z" fill="#34441a"/>
<path d="M666 116 V125 L670 120.3 Z" fill="#84a24c"/>
<line x1="667" y1="163" x2="692" y2="163" stroke="#4a7ebb" stroke-width="6" stroke-linecap="round"/>
<line x1="667" y1="205.2" x2="692" y2="205.2" stroke="#c0504d" stroke-width="6" stroke-linecap="round"/>
<text x="695.3" y="125" font-family="Liberation Sans, sans-serif" font-weight="bold" font-size="13.5" fill="#000" textLength="233" lengthAdjust="spacingAndGlyphs">Proporción FAS/FOB Mayo 2026 en</text>
<text x="695.3" y="144.8" font-family="Liberation Sans, sans-serif" font-weight="bold" font-size="13.5" fill="#000" textLength="110" lengthAdjust="spacingAndGlyphs">porcentaje (der)</text>
<text x="695.3" y="166.4" font-family="Liberation Sans, sans-serif" font-weight="bold" font-size="13.5" fill="#000" textLength="273.5" lengthAdjust="spacingAndGlyphs">Soja Rosario Mayo 2026 en u$s/tonelada</text>
<text x="695.3" y="186.4" font-family="Liberation Sans, sans-serif" font-weight="bold" font-size="13.5" fill="#000" textLength="29.5" lengthAdjust="spacingAndGlyphs">(izq)</text>
<text x="695.3" y="208.5" font-family="Liberation Sans, sans-serif" font-weight="bold" font-size="13.5" fill="#000" textLength="250" lengthAdjust="spacingAndGlyphs">FOB Mayo 2026 en u$s/tonelada (izq)</text>
</svg>
</body></html>
